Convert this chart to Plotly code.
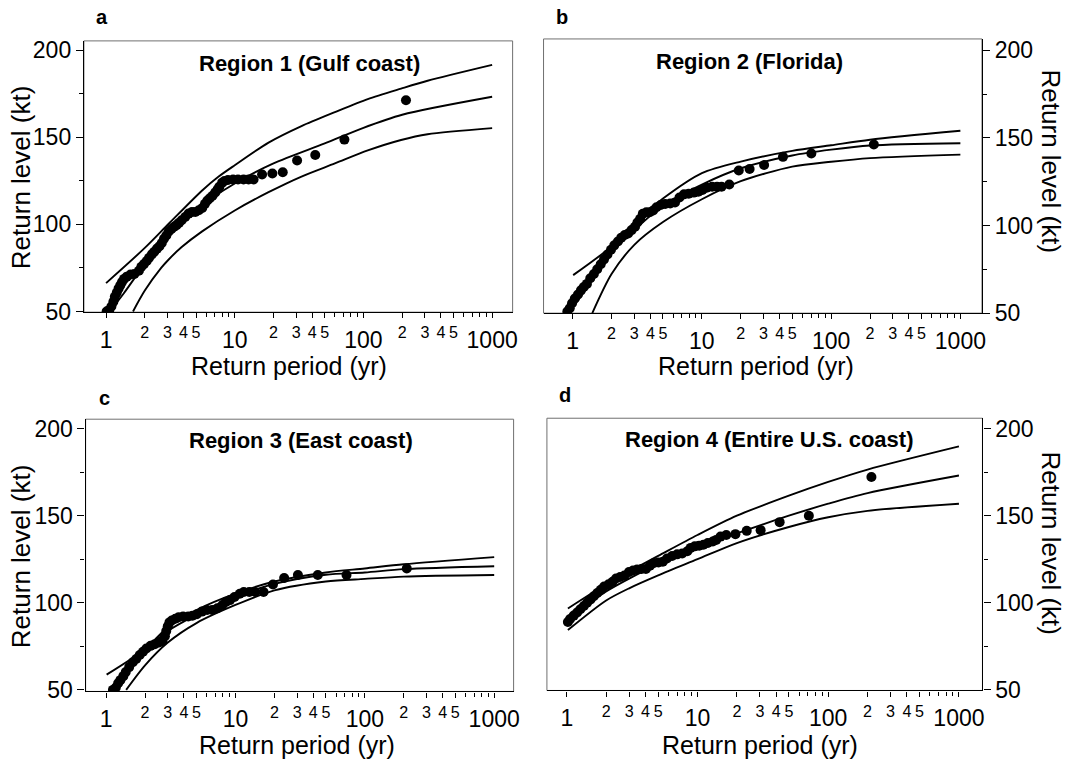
import plotly.graph_objects as go

W, H = 1071, 773
FONT = "Liberation Sans, Arial, Helvetica, sans-serif"

# ---------------- data ----------------
panel_letters = ["a", "b", "c", "d"]
panel_titles = ["Region 1 (Gulf coast)", "Region 2 (Florida)",
                "Region 3 (East coast)", "Region 4 (Entire U.S. coast)"]
x_title = "Return period (yr)"
y_title = "Return level (kt)"

major_periods = [1, 10, 100, 1000]
small_label_periods = [2, 3, 4, 5, 20, 30, 40, 50, 200, 300, 400, 500]
minor_periods = [6, 7, 8, 9, 60, 70, 80, 90, 600, 700, 800, 900]
level_ticks = [50, 100, 150, 200]
level_minor = [75, 125, 175]

# Region 1 (Gulf coast)
a_pts_T = [1.01, 1.06, 1.10, 1.14, 1.17, 1.21, 1.25, 1.29, 1.33, 1.38, 1.45, 1.55, 1.66, 1.80, 1.88,
           1.97, 2.07, 2.16, 2.27, 2.37, 2.49, 2.60, 2.71, 2.82, 2.94, 3.07, 3.22, 3.38, 3.53, 3.69,
           3.87, 4.12, 4.38, 4.65, 4.94, 5.26, 5.59, 5.87, 6.13, 6.40, 6.72, 7.06, 7.36, 7.60, 7.98,
           8.32, 8.85, 9.70, 10.6, 11.7, 12.8, 14.0, 16.3, 19.6, 23.6, 30.5, 42.2, 71.1, 214]
a_pts_v = [50.0, 50.9, 52.8, 55.6, 58.4, 60.7, 63.1, 65.0, 66.9, 68.7, 70.0, 71.2, 71.5, 73.4, 75.7,
           77.2, 79.0, 80.9, 82.8, 84.3, 86.1, 87.5, 89.3, 91.8, 93.6, 95.9, 97.4, 98.7, 99.6, 100.9,
           102.4, 104.3, 106.2, 107.1, 107.1, 108.1, 109.4, 111.8, 113.7, 115.0, 116.5, 118.4, 120.2, 121.7, 124.0,
           124.9, 125.5, 125.8, 125.8, 125.8, 125.8, 125.8, 128.7, 129.2, 130.0, 136.7, 139.9, 148.7, 171.3]
a_up_T = [1.0, 2.0, 3.08, 5.58, 7.5, 10, 18.3, 33, 60, 108, 196, 315, 1000]
a_up_v = [66.3, 86.5, 100.5, 119.5, 127.5, 134.0, 147.0, 156.5, 164.5, 172.0, 178.0, 182.5, 191.6]
a_fit_T = [1.07, 1.37, 2.0, 3.0, 5.0, 10, 20, 50, 100, 200, 1000]
a_fit_v = [50.0, 60.3, 77.2, 92.5, 108.5, 123.5, 135.0, 146.5, 155.5, 163.0, 173.3]
a_lo_T = [1.62, 2.0, 2.68, 3.08, 3.87, 5.58, 10, 18.3, 33, 60, 108, 196, 315, 1000]
a_lo_v = [50.0, 62.0, 75.0, 80.0, 87.0, 96.0, 108.0, 118.5, 127.5, 135.0, 142.5, 148.5, 151.8, 155.3]

# Region 2 (Florida)
b_pts_T = [0.91, 0.95, 0.99, 1.04, 1.10, 1.16, 1.22, 1.29, 1.37, 1.46, 1.55, 1.65, 1.75, 1.86, 1.98,
           2.10, 2.24, 2.38, 2.53, 2.69, 2.86, 3.04, 3.17, 3.33, 3.49, 3.72, 3.95, 4.20, 4.46, 4.80,
           5.20, 5.69, 6.20, 6.71, 7.27, 7.91, 8.67, 9.39, 10.1, 10.9, 12.0, 13.1, 14.2, 16.3, 19.3,
           23.4, 30.3, 42.4, 70.3, 214]
b_pts_v = [50.9, 52.8, 55.6, 58.4, 60.6, 63.0, 64.9, 66.7, 69.9, 72.3, 75.1, 77.9, 80.7, 83.5, 86.2,
           88.7, 90.9, 93.1, 94.6, 95.5, 97.4, 99.3, 101.7, 103.9, 106.7, 107.6, 107.6, 108.6, 110.4, 111.7,
           112.3, 112.6, 113.2, 116.0, 117.8, 118.2, 118.8, 119.3, 120.3, 121.6, 122.1, 122.1, 122.1, 123.4, 131.4,
           132.3, 134.6, 139.2, 141.1, 146.3]
b_up_T = [1.01, 2, 3, 5, 10, 20, 50, 100, 200, 1000]
b_up_v = [71.7, 88.1, 101.7, 115.4, 129.9, 136.5, 142.6, 145.8, 149.0, 154.1]
b_fit_T = [0.93, 1.2, 1.5, 2, 3, 5, 10, 20, 50, 100, 200, 1000]
b_fit_v = [50.0, 61.2, 72.3, 84.4, 97.4, 111.3, 123.4, 132.7, 140.0, 143.3, 145.7, 147.0]
b_lo_T = [1.42, 2, 3, 5, 10, 20, 50, 100, 200, 1000]
b_lo_v = [50.0, 72.3, 89.0, 102.0, 115.0, 125.3, 133.6, 136.4, 138.5, 140.5]

# Region 3 (East coast)
c_pts_T = [1.13, 1.19, 1.24, 1.29, 1.36, 1.42, 1.51, 1.61, 1.71, 1.82, 1.93, 2.05, 2.21, 2.38, 2.57,
           2.73, 2.85, 2.92, 3.00, 3.09, 3.22, 3.43, 3.64, 3.94, 4.32, 4.65, 5.03, 5.51, 6.04, 6.62,
           7.25, 7.94, 8.45, 9.08, 9.84, 10.8, 11.6, 12.8, 14.2, 16.5, 19.5, 23.8, 30.4, 43.3, 72.2, 211]
c_pts_v = [50.0, 51.3, 53.8, 55.6, 57.9, 60.3, 63.1, 65.9, 67.8, 70.1, 71.9, 73.8, 75.3, 76.3, 77.2,
           78.1, 80.9, 83.8, 86.6, 88.8, 89.9, 90.9, 91.8, 92.2, 92.2, 92.6, 93.5, 95.0, 95.9, 95.9,
           96.9, 98.8, 100.6, 101.6, 103.4, 105.3, 106.3, 106.3, 106.3, 106.3, 110.6, 114.3, 116.0, 116.0, 116.0, 119.8]
c_up_T = [1.01, 2, 3, 5, 10, 20, 50, 100, 200, 1000]
c_up_v = [58.8, 73.4, 86.0, 95.9, 105.3, 112.3, 117.5, 119.8, 122.2, 126.3]
c_fit_T = [1.1, 1.5, 2, 3, 5, 10, 20, 50, 100, 200, 1000]
c_fit_v = [50.0, 61.3, 72.5, 83.8, 93.1, 103.4, 110.9, 116.2, 117.5, 119.4, 121.1]
c_lo_T = [1.43, 2, 3, 5, 10, 20, 50, 100, 200, 1000]
c_lo_v = [50.0, 64.1, 77.2, 88.4, 98.8, 107.2, 112.3, 113.8, 115.1, 116.0]

# Region 4 (Entire U.S. coast)
d_pts_T = [1.02, 1.06, 1.13, 1.20, 1.27, 1.35, 1.43, 1.52, 1.61, 1.71, 1.82, 1.93, 2.09, 2.24, 2.38,
           2.56, 2.76, 2.99, 3.21, 3.45, 3.73, 4.03, 4.33, 4.65, 5.03, 5.43, 5.84, 6.39, 6.99, 7.64,
           8.36, 8.87, 9.53, 10.3, 11.1, 12.0, 13.1, 13.9, 15.0, 16.6, 19.5, 23.8, 30.4, 42.5, 71.1, 214]
d_pts_v = [88.9, 90.7, 92.6, 94.4, 96.3, 98.1, 100.0, 101.9, 103.7, 105.6, 107.4, 109.3, 110.6, 112.0, 113.9,
           114.8, 115.7, 117.6, 118.5, 119.1, 119.4, 119.4, 121.3, 122.8, 123.1, 123.5, 125.4, 126.9, 127.8, 128.3,
           129.6, 131.5, 132.4, 132.8, 133.3, 134.3, 135.2, 136.1, 138.0, 138.9, 139.4, 141.3, 141.7, 146.3, 150.0, 172.2]
d_up_T = [1.02, 2, 3, 5, 10, 20, 50, 100, 200, 1000]
d_up_v = [96.7, 110.6, 118.0, 126.9, 138.9, 150.0, 161.5, 169.4, 176.5, 189.8]
d_fit_T = [1.0, 2, 3, 5, 10, 20, 50, 100, 200, 1000]
d_fit_v = [90.7, 106.5, 113.9, 122.2, 131.5, 139.8, 150.0, 156.9, 163.0, 173.1]
d_lo_T = [1.02, 2, 3, 5, 10, 20, 50, 100, 200, 1000]
d_lo_v = [84.3, 101.3, 108.3, 115.7, 125.0, 134.3, 143.5, 149.1, 152.8, 156.9]

# ---------------- layout geometry (pixels) ----------------
panels = [
    dict(box=(84.4, 515.5, 38.7, 315.7), xr=(-0.172, 3.159), yr=(49.6, 205.4), side="left",
         pts=(a_pts_T, a_pts_v), curves=[(a_up_T, a_up_v), (a_fit_T, a_fit_v), (a_lo_T, a_lo_v)],
         title_xy=(311, 62), letter_xy=(103, 14), xt_xy=(291, 371), yt_xy=(21, 178)),
    dict(box=(546.6, 987.5, 36.7, 316.7), xr=(-0.225, 3.167), yr=(50.0, 206.5), side="right",
         pts=(b_pts_T, b_pts_v), curves=[(b_up_T, b_up_v), (b_fit_T, b_fit_v), (b_lo_T, b_lo_v)],
         title_xy=(754, 60), letter_xy=(565, 14), xt_xy=(760, 371), yt_xy=(1057, 162)),
    dict(box=(86.1, 516.5, 425.0, 703.0), xr=(-0.158, 3.150), yr=(49.1, 205.6), side="left",
         pts=(c_pts_T, c_pts_v), curves=[(c_up_T, c_up_v), (c_fit_T, c_fit_v), (c_lo_T, c_lo_v)],
         title_xy=(303, 447), letter_xy=(105, 403), xt_xy=(299, 758), yt_xy=(21, 565)),
    dict(box=(550.0, 988.0, 424.0, 702.0), xr=(-0.152, 3.180), yr=(49.6, 206.0), side="right",
         pts=(d_pts_T, d_pts_v), curves=[(d_up_T, d_up_v), (d_fit_T, d_fit_v), (d_lo_T, d_lo_v)],
         title_xy=(774, 446), letter_xy=(568, 400), xt_xy=(764, 758), yt_xy=(1057, 552)),
]

tickvals_x = sorted(major_periods + small_label_periods)
ticktext_x = [str(v) if v in major_periods else "<sup>%s</sup>" % str(v)[0] for v in tickvals_x]

fig = go.Figure()
annotations = []
shapes = []
layout = {}

for i, p in enumerate(panels):
    n = "" if i == 0 else str(i + 1)
    xa, ya = "x" + n, "y" + n
    x0, x1, y0, y1 = p["box"]
    for T, v in p["curves"]:
        fig.add_trace(go.Scatter(x=T, y=v, mode="lines", xaxis=xa, yaxis=ya,
                                 line=dict(color="black", width=1.9, shape="spline", smoothing=0.8),
                                 showlegend=False, hoverinfo="skip"))
    fig.add_trace(go.Scatter(x=p["pts"][0], y=p["pts"][1], mode="markers", xaxis=xa, yaxis=ya,
                             marker=dict(color="black", size=10, line=dict(width=0)),
                             showlegend=False))
    layout["xaxis" + n] = dict(
        domain=[x0 / W, x1 / W], anchor=ya, type="log", range=list(p["xr"]),
        tickmode="array", tickvals=tickvals_x, ticktext=ticktext_x, tickangle=0,
        ticks="outside", ticklen=5, tickwidth=1, tickcolor="black",
        tickfont=dict(family=FONT, size=23, color="black"), ticklabelstandoff=2,
        minor=dict(tickvals=minor_periods, ticks="outside", ticklen=4, tickcolor="black", tickwidth=1),
        showline=True, linecolor="black", linewidth=1.3, showgrid=False, zeroline=False,
    )
    layout["yaxis" + n] = dict(
        domain=[1 - y1 / H, 1 - y0 / H], anchor=xa, side=p["side"], range=list(p["yr"]),
        tickmode="array", tickvals=level_ticks, ticks="outside", ticklen=7, tickwidth=1,
        tickcolor="black", tickfont=dict(family=FONT, size=23, color="black"),
        minor=dict(tickvals=level_minor, ticks="outside", ticklen=4, tickcolor="black", tickwidth=1),
        showline=True, linecolor="black", linewidth=1.3, showgrid=False, zeroline=False,
    )
    shapes.append(dict(type="rect", xref=xa + " domain", yref=ya + " domain", x0=0, x1=1, y0=0, y1=1,
                       line=dict(color="#707070", width=1), layer="below"))
    tx, ty = p["title_xy"]
    annotations.append(dict(text="<b>%s</b>" % panel_titles[i], x=tx / W, y=1 - ty / H, xref="paper",
                            yref="paper", showarrow=False, xanchor="center", yanchor="middle",
                            font=dict(family=FONT, size=22, color="black")))
    lx, ly = p["letter_xy"]
    annotations.append(dict(text="<b>%s</b>" % panel_letters[i], x=lx / W, y=1 - ly / H, xref="paper",
                            yref="paper", showarrow=False, xanchor="center", yanchor="middle",
                            font=dict(family=FONT, size=20, color="black")))
    xtx, xty = p["xt_xy"]
    annotations.append(dict(text=x_title, x=xtx / W, y=1 - xty / H, xref="paper", yref="paper",
                            showarrow=False, xanchor="center", yanchor="middle",
                            font=dict(family=FONT, size=25, color="black")))
    ytx, yty = p["yt_xy"]
    annotations.append(dict(text=y_title, x=ytx / W, y=1 - yty / H, xref="paper", yref="paper",
                            showarrow=False, xanchor="center", yanchor="middle",
                            textangle=-90 if p["side"] == "left" else 90,
                            font=dict(family=FONT, size=26, color="black")))

fig.update_layout(
    width=W, height=H, margin=dict(l=0, r=0, t=0, b=0),
    paper_bgcolor="white", plot_bgcolor="white",
    annotations=annotations, shapes=shapes, **layout,
)

fig.write_html("out.html")
